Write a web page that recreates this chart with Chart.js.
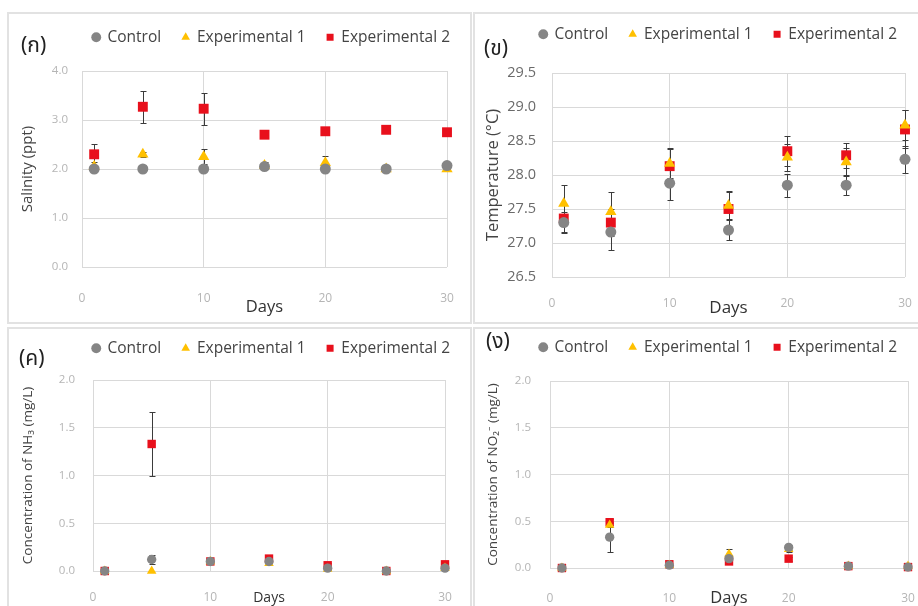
<!DOCTYPE html>
<html>
<head>
<meta charset="utf-8">
<script src="https://cdn.jsdelivr.net/npm/chart.js@4.4.0/dist/chart.umd.min.js"></script>
<style>
  body { margin: 0; width: 918px; height: 606px; overflow: hidden; position: relative; background: #fff; }
  .frame { position: absolute; border: 2px solid #e2e2e2; box-sizing: border-box; }
  canvas { position: absolute; }
  .tag { position: absolute; font-family: "Noto Sans Thai", "Loma", "Garuda", "Noto Sans", "DejaVu Sans", sans-serif; font-size: 21px; color: #222; line-height: 1; }
</style>
</head>
<body>
<div class="frame" style="left:7px;top:12px;width:465px;height:312px"></div>
<div class="frame" style="left:473px;top:12px;width:450px;height:312px"></div>
<div class="frame" style="left:7px;top:327px;width:465px;height:300px"></div>
<div class="frame" style="left:473px;top:327px;width:450px;height:300px"></div>

<canvas id="c1" width="463" height="309" style="left:8px;top:13px"></canvas>
<canvas id="c2" width="444" height="309" style="left:474px;top:13px"></canvas>
<canvas id="c3" width="463" height="278" style="left:8px;top:328px"></canvas>
<canvas id="c4" width="444" height="278" style="left:474px;top:328px"></canvas>

<span class="tag" style="left:21px;top:35px">(ก)</span>
<span class="tag" style="left:484px;top:38px">(ข)</span>
<span class="tag" style="left:19px;top:348px">(ค)</span>
<span class="tag" style="left:486px;top:331px">(ง)</span>

<script>
// sampling days
const days = [1, 5, 10, 15, 20, 25, 30];
const seriesNames = ['Control', 'Experimental 1', 'Experimental 2'];

// (ก) salinity, ppt
const salControl = [2.0, 2.0, 2.0, 2.05, 2.0, 2.0, 2.07];
const salExp1 = [2.05, 2.3, 2.25, 2.07, 2.13, 2.0, 2.0];
const salExp2 = [2.3, 3.27, 3.23, 2.7, 2.77, 2.8, 2.75];
const salControlErr = [0, 0, 0, 0.05, 0, 0, 0.05];
const salExp1Err = [0.1, 0.05, 0.15, 0.08, 0.13, 0, 0.03];
const salExp2Err = [0.22, 0.33, 0.33, 0.03, 0.03, 0.03, 0.03];

// (ข) temperature, °C
const tempControl = [27.3, 27.16, 27.88, 27.19, 27.85, 27.85, 28.23];
const tempExp1 = [27.58, 27.46, 28.17, 27.55, 28.26, 28.19, 28.73];
const tempExp2 = [27.36, 27.3, 28.13, 27.5, 28.35, 28.29, 28.67];
const tempControlErr = [0.16, 0.27, 0.25, 0.15, 0.17, 0.15, 0.2];
const tempExp1Err = [0.27, 0.29, 0.22, 0.2, 0.2, 0.2, 0.22];
const tempExp2Err = [0.2, 0.2, 0.25, 0.27, 0.22, 0.18, 0.28];

// (ค) NH3, mg/L
const nh3Control = [0.0, 0.12, 0.1, 0.1, 0.03, 0.0, 0.03];
const nh3Exp1 = [0.0, 0.0, 0.1, 0.08, 0.02, 0.0, 0.03];
const nh3Exp2 = [0.0, 1.33, 0.1, 0.13, 0.06, 0.0, 0.07];
const nh3ControlErr = [0, 0.05, 0.02, 0.02, 0.01, 0, 0.01];
const nh3Exp1Err = [0, 0, 0.02, 0.02, 0.01, 0, 0.01];
const nh3Exp2Err = [0, 0.33, 0.02, 0.03, 0.02, 0, 0.02];

// (ง) NO2-, mg/L
const no2Control = [0.0, 0.33, 0.03, 0.1, 0.22, 0.02, 0.01];
const no2Exp1 = [0.0, 0.46, 0.03, 0.15, 0.2, 0.02, 0.02];
const no2Exp2 = [0.0, 0.49, 0.04, 0.07, 0.1, 0.02, 0.01];
const no2ControlErr = [0, 0.16, 0.01, 0.02, 0.03, 0, 0];
const no2Exp1Err = [0, 0.02, 0.01, 0.05, 0.03, 0, 0];
const no2Exp2Err = [0, 0.03, 0.01, 0.02, 0.02, 0, 0];

const colores = ['#858585', '#ffc000', '#e8101c'];
const estilos = ['circle', 'triangle', 'rect'];
const radios = [5.5, 6.5, 7];
const fuente = '"Open Sans", "Noto Sans", "DejaVu Sans", sans-serif';

// Error bars drawn under the markers using the chart scales
const barrasError = {
  id: 'barrasError',
  beforeDatasetsDraw(chart) {
    const { ctx, scales: { x, y } } = chart;
    ctx.save();
    ctx.strokeStyle = '#3b3b3b';
    ctx.lineWidth = 1;
    chart.data.datasets.forEach(ds => {
      ds.data.forEach((p, i) => {
        const e = ds.errores[i];
        if (!e) return;
        const px = Math.round(x.getPixelForValue(p.x)) + 0.5;
        const arriba = Math.round(y.getPixelForValue(p.y + e)) + 0.5;
        const abajo = Math.round(y.getPixelForValue(p.y - e)) + 0.5;
        ctx.beginPath();
        ctx.moveTo(px, arriba); ctx.lineTo(px, abajo);
        ctx.moveTo(px - 3, arriba); ctx.lineTo(px + 3, arriba);
        ctx.moveTo(px - 3, abajo); ctx.lineTo(px + 3, abajo);
        ctx.stroke();
      });
    });
    ctx.restore();
  }
};

// Extra space between the legend and the plot
const espacioLeyenda = {
  id: 'espacioLeyenda',
  beforeInit(chart) {
    const fitOriginal = chart.legend.fit;
    chart.legend.fit = function () {
      fitOriginal.call(this);
      this.height += chart.options.plugins.espacioLeyenda.extra;
    };
  }
};

function crearGrafica(id, cfg) {
  const datasets = cfg.series.map((vals, k) => ({
    label: seriesNames[k],
    data: days.map((d, i) => ({ x: d, y: vals[i] })),
    errores: cfg.errores[k],
    backgroundColor: colores[k],
    borderColor: colores[k],
    borderWidth: 0,
    pointStyle: estilos[k],
    pointRadius: radios[k] * cfg.escala,
    pointHoverRadius: radios[k] * cfg.escala,
    clip: false
  }));

  return new Chart(document.getElementById(id), {
    type: 'scatter',
    data: { datasets },
    plugins: [barrasError, espacioLeyenda],
    options: {
      responsive: false,
      animation: false,
      events: [],
      layout: { padding: { left: 0, right: 0, top: cfg.arriba, bottom: 0 } },
      plugins: {
        tooltip: { enabled: false },
        espacioLeyenda: { extra: cfg.extra },
        legend: {
          position: 'top',
          align: 'end',
          labels: {
            usePointStyle: true,
            boxWidth: 7,
            boxHeight: 7,
            padding: 21,
            color: '#444',
            font: { family: fuente, size: 15.5 }
          }
        }
      },
      scales: {
        x: {
          type: 'linear',
          min: 0,
          max: 30,
          ticks: { stepSize: 10, color: '#b5b5b5', font: { family: fuente, size: 12 }, padding: cfg.xPad },
          grid: { color: '#d9d9d9', drawTicks: false },
          border: { display: false },
          title: { display: true, text: 'Days', color: '#333', font: { family: fuente, size: cfg.diasSize }, padding: { top: 0, bottom: cfg.diasAbajo } },
          afterFit(s) {
            s.height = cfg.altoX;
            s.paddingLeft = 0;
            s.paddingRight = 0;
          }
        },
        y: {
          min: cfg.yMin,
          max: cfg.yMax,
          ticks: { stepSize: cfg.yPaso, color: cfg.yColor, font: { family: fuente, size: cfg.ySize }, padding: cfg.yPad, callback: v => v.toFixed(1) },
          grid: { color: '#d9d9d9', drawTicks: false },
          border: { display: false },
          title: { display: true, text: cfg.yTitulo, color: '#444', font: { family: fuente, size: cfg.yTituloSize }, padding: { top: cfg.yTituloPad, bottom: 0 } },
          afterFit(s) { s.width = cfg.anchoY; }
        },
        // empty right margin so the legend can run past the plot edge
        margen: {
          type: 'linear',
          position: 'right',
          display: true,
          ticks: { display: false },
          grid: { display: false },
          border: { display: false },
          afterFit(s) { s.width = cfg.derecha; }
        }
      }
    }
  });
}

crearGrafica('c1', {
  series: [salControl, salExp1, salExp2],
  errores: [salControlErr, salExp1Err, salExp2Err],
  escala: 1, derecha: 24, arriba: -4.5, extra: 16,
  yMin: 0, yMax: 4, yPaso: 1, yColor: '#b5b5b5', ySize: 11.5, yPad: 14,
  yTitulo: 'Salinity (ppt)', yTituloSize: 15, yTituloPad: 11, anchoY: 74,
  xPad: 24, altoX: 55, diasSize: 16.5, diasAbajo: 5
});

crearGrafica('c2', {
  series: [tempControl, tempExp1, tempExp2],
  errores: [tempControlErr, tempExp1Err, tempExp2Err],
  escala: 1, derecha: 13, arriba: -7.5, extra: 21,
  yMin: 26.5, yMax: 29.5, yPaso: 0.5, yColor: '#6a6a6a', ySize: 14.5, yPad: 16,
  yTitulo: 'Temperature (°C)', yTituloSize: 16.5, yTituloPad: 9, anchoY: 78,
  xPad: 19, altoX: 45, diasSize: 17, diasAbajo: 4
});

crearGrafica('c3', {
  series: [nh3Control, nh3Exp1, nh3Exp2],
  errores: [nh3ControlErr, nh3Exp1Err, nh3Exp2Err],
  escala: 0.85, derecha: 26, arriba: -8.5, extra: 14,
  yMin: 0, yMax: 2, yPaso: 0.5, yColor: '#b5b5b5', ySize: 11.5, yPad: 18,
  yTitulo: 'Concentration of NH\u2083 (mg/L)', yTituloSize: 13.5, yTituloPad: 12, anchoY: 85,
  xPad: 19, altoX: 35, diasSize: 14, diasAbajo: 0
});

crearGrafica('c4', {
  series: [no2Control, no2Exp1, no2Exp2],
  errores: [no2ControlErr, no2Exp1Err, no2Exp2Err],
  escala: 0.85, derecha: 10, arriba: -9.5, extra: 16,
  yMin: 0, yMax: 2, yPaso: 0.5, yColor: '#b5b5b5', ySize: 11.5, yPad: 19,
  yTitulo: 'Concentration of NO\u2082\u207B (mg/L)', yTituloSize: 13.5, yTituloPad: 11, anchoY: 76,
  xPad: 23, altoX: 38, diasSize: 16.5, diasAbajo: -2
});
</script>
</body>
</html>
